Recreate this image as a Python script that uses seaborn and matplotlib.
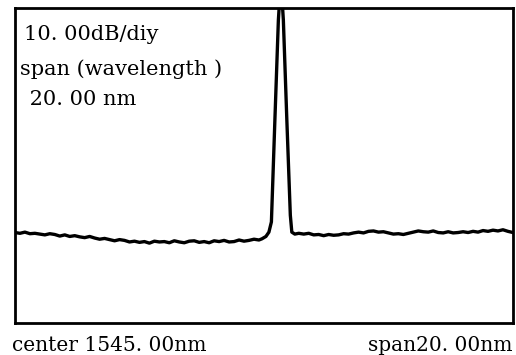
import numpy as np
import pandas as pd
import seaborn as sns
import matplotlib.pyplot as plt

# OSA trace: wavelength (nm) and power level (dB, top of screen = 0)
wl_left = [1535.0, 1535.2, 1535.4, 1535.6, 1535.8, 1536.0, 1536.2, 1536.4, 1536.6, 1536.8,
           1537.0, 1537.2, 1537.4, 1537.6, 1537.8, 1538.0, 1538.2, 1538.4, 1538.6, 1538.8,
           1539.0, 1539.2, 1539.4, 1539.6, 1539.8, 1540.0, 1540.2, 1540.4, 1540.6, 1540.8,
           1541.0, 1541.2, 1541.4, 1541.6, 1541.8, 1542.0, 1542.2, 1542.4, 1542.6, 1542.8,
           1543.0, 1543.2, 1543.4, 1543.6, 1543.8, 1544.0, 1544.2, 1544.4, 1544.6, 1544.8]
db_left = [-57.0, -57.2, -56.9, -57.3, -57.2, -57.4, -57.6, -57.3, -57.5, -57.9,
           -57.6, -58.0, -57.8, -58.1, -58.3, -58.0, -58.4, -58.7, -58.5, -58.8,
           -59.1, -58.8, -59.0, -59.4, -59.2, -59.5, -59.3, -59.7, -59.2, -59.4,
           -59.3, -59.6, -59.1, -59.4, -59.6, -59.2, -59.1, -59.5, -59.3, -59.6,
           -59.1, -59.3, -59.0, -59.4, -59.3, -58.9, -59.2, -59.0, -58.7, -58.9]

wl_peak = [1544.92, 1545.08, 1545.20, 1545.30, 1545.44, 1545.58, 1545.68,
           1545.78, 1545.92, 1546.06, 1546.12, 1546.24]
db_peak = [-58.6, -58.0, -56.9, -54.3, -28.4, -3.0, 7.1,
           -3.0, -28.4, -52.6, -56.9, -57.4]

wl_right = [1546.4, 1546.6, 1546.8, 1547.0, 1547.2, 1547.4, 1547.6, 1547.8, 1548.0, 1548.2,
            1548.4, 1548.6, 1548.8, 1549.0, 1549.2, 1549.4, 1549.6, 1549.8, 1550.0, 1550.2,
            1550.4, 1550.6, 1550.8, 1551.0, 1551.2, 1551.4, 1551.6, 1551.8, 1552.0, 1552.2,
            1552.4, 1552.6, 1552.8, 1553.0, 1553.2, 1553.4, 1553.6, 1553.8, 1554.0, 1554.2,
            1554.4, 1554.6, 1554.8, 1555.0]
db_right = [-57.2, -57.4, -57.2, -57.6, -57.5, -57.8, -57.5, -57.7, -57.6, -57.3,
            -57.4, -57.1, -56.9, -57.1, -56.7, -56.6, -56.9, -56.8, -57.1, -57.4,
            -57.3, -57.5, -57.2, -56.9, -56.6, -56.8, -56.9, -56.6, -57.0, -57.1,
            -56.8, -57.1, -57.0, -56.8, -57.0, -56.7, -56.9, -56.5, -56.7, -56.4,
            -56.6, -56.3, -56.7, -57.0]

info_lines = ["10. 00dB/diy", "span (wavelength )", " 20. 00 nm"]
center_label = "center 1545. 00nm"
span_label = "span20. 00nm"

df = pd.DataFrame({"wavelength": wl_left + wl_peak + wl_right,
                   "level": db_left + db_peak + db_right})

sns.set_style("white")
fig = plt.figure(figsize=(5.16, 3.55), dpi=100)
ax = fig.add_axes([0.029, 0.090, 0.965, 0.887])
sns.lineplot(data=df, x="wavelength", y="level", color="black", linewidth=2.4,
             sort=False, ax=ax)
ax.set_xlim(1535, 1555)
ax.set_ylim(-80, 0)
ax.set_xticks([])
ax.set_yticks([])
ax.set_xlabel("")
ax.set_ylabel("")
for s in ax.spines.values():
    s.set_color("black")
    s.set_linewidth(2)

font = dict(family="DejaVu Serif", fontsize=15, color="black", va="baseline")
fig.text(24 / 516, 1 - 40 / 355, info_lines[0], **font)
fig.text(20 / 516, 1 - 75 / 355, info_lines[1], **font)
fig.text(23 / 516, 1 - 105 / 355, info_lines[2], **font)
bottom = dict(font, fontsize=14.5)
fig.text(12 / 516, 1 - 351 / 355, center_label, **bottom)
fig.text(512 / 516, 1 - 351 / 355, span_label, ha="right", **bottom)

fig.savefig("out.png", dpi=100)
